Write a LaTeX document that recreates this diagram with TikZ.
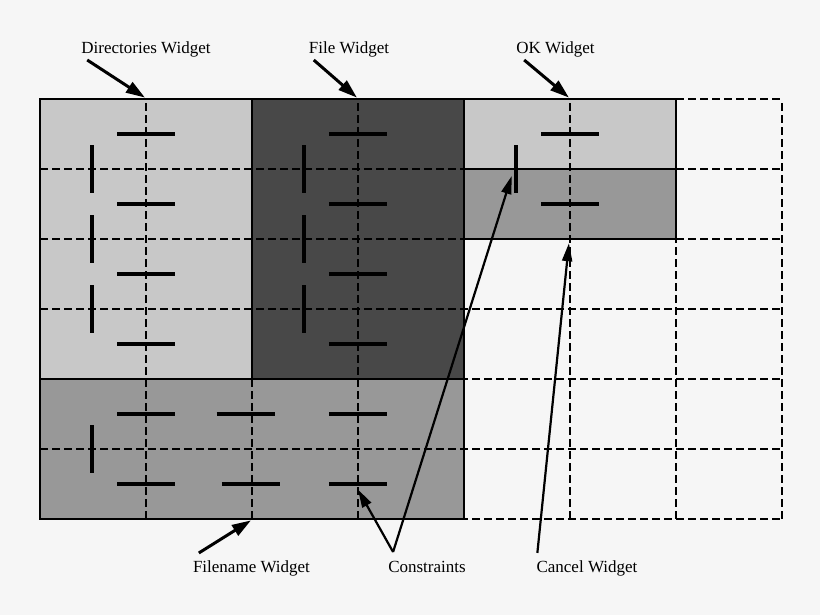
\documentclass[tikz,border=0pt]{standalone}
\usepackage{fontspec}
\setmainfont{Liberation Serif}
\usetikzlibrary{arrows.meta}
\definecolor{pagegray}{HTML}{F6F6F6}
\definecolor{lightwidget}{HTML}{C8C8C8}
\definecolor{darkwidget}{HTML}{484848}
\definecolor{midwidget}{HTML}{989898}
\tikzset{
  widget/.style={draw=black,line width=2pt},
  gridline/.style={line width=2pt,dash pattern=on 7.5pt off 4.5pt},
  constraint/.style={line width=3.5pt},
  pointer/.style={line width=3pt,-{Triangle[length=19pt,width=12pt]}},
  thinpointer/.style={line width=2.2pt,-{Triangle[length=18pt,width=10pt]}},
}
\begin{document}
\begin{tikzpicture}[x=106pt,y=70pt]
            \useasboundingbox[fill=pagegray] (-40pt,-96pt) rectangle (780pt,519pt);

            \begin{scope}
                \draw[widget,fill=lightwidget] (0,2) rectangle (2,6);
                \draw[widget,fill=darkwidget] (2,2) rectangle (4,6);
                \draw[widget,fill=lightwidget] (4,5) rectangle (6,6);
                \draw[widget,fill=midwidget] (4,4) rectangle (6,5);
                \draw[widget,fill=midwidget] (0,0) rectangle (4,2);
            \end{scope}

            \foreach \x in {0,...,7}
                \draw[gridline] (\x,0) -- (\x,6);
            \foreach \y in {0,...,6}
                \draw[gridline] (0,\y) -- (7,\y);

            \foreach \x/\y in {1/5.5,1/4.5,1/3.5,1/2.5,3/5.5,3/4.5,3/3.5,3/2.5,
                               5/5.5,5/4.5,1/1.5,1.94/1.5,3/1.5,1/0.5,1.99/0.5,3/0.5}
                \draw[constraint] (\x,\y) +(-29pt,0) -- +(29pt,0);
            \foreach \x/\y in {0.49/5,0.49/4,0.49/3,2.49/5,2.49/4,2.49/3,4.49/5,0.49/1}
                \draw[constraint] (\x,\y) +(0,-24pt) -- +(0,24pt);

            \begin{scope}[every node/.style={inner sep=0pt,anchor=base,font=\fontsize{17}{20}\selectfont}]
                \node (dirs) at (1.0,6.657) {Directories Widget};
                \node (file) at (2.915,6.657) {File Widget};
                \node (ok) at (4.863,6.657) {OK Widget};
                \node (filename) at (1.995,-0.771) {Filename Widget};
                \node (constraints) at (3.651,-0.771) {Constraints};
                \node (cancel) at (5.16,-0.771) {Cancel Widget};
            \end{scope}

            \coordinate (dirstip) at (0.99,6.02);
            \coordinate (filetip) at (2.99,6.02);
            \coordinate (oktip) at (4.99,6.02);
            \coordinate (filenametip) at (1.99,-0.02);
            \coordinate (canceltip) at (4.99,3.94);
            \coordinate (lowmark) at (3,0.42);
            \coordinate (sidemark) at (4.45,4.9);

            \begin{scope}
                \draw[pointer] ([shift={(6pt,-7pt)}]dirs.base west) -- (dirstip);
                \draw[pointer] ([shift={(5pt,-7pt)}]file.base west) -- (filetip);
                \draw[pointer] ([shift={(8pt,-7pt)}]ok.base west) -- (oktip);
                \draw[pointer] ([shift={(6pt,20pt)}]filename.base west) -- (filenametip);
                \draw[thinpointer] ([shift={(5pt,21pt)}]constraints.base west) coordinate (apex) -- (lowmark);
                \draw[thinpointer] (apex) -- (sidemark);
                \draw[thinpointer] ([shift={(1pt,20pt)}]cancel.base west) -- (canceltip);
            \end{scope}
            \end{tikzpicture}
\end{document}
